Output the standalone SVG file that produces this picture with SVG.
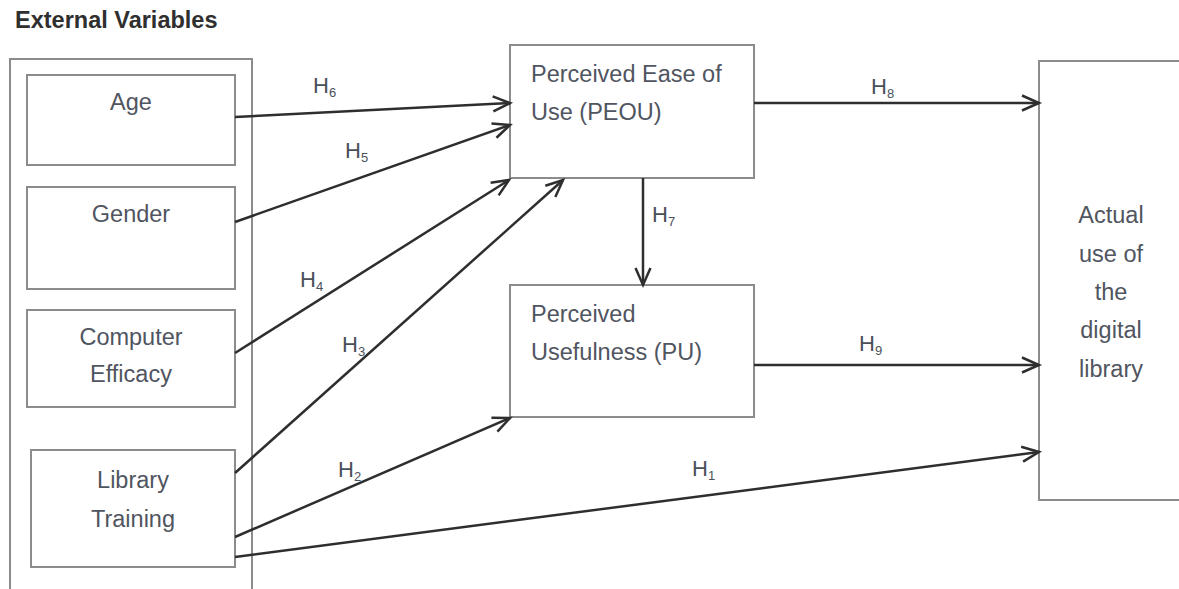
<svg xmlns="http://www.w3.org/2000/svg" width="1179" height="589" viewBox="0 0 1179 589">
<style>
.box{fill:#fff;stroke:#8c8c8c;stroke-width:2}
.txt{font-family:"Liberation Sans",Arial,sans-serif;font-size:23.5px;fill:#50555f}
.title{font-family:"Liberation Sans",Arial,sans-serif;font-size:23.5px;font-weight:bold;fill:#2f2f2f}
.lbl{font-family:"Liberation Sans",Arial,sans-serif;font-size:22px;fill:#4a505a}
.sub{font-size:13px}
.edge{stroke:#2e2e2e;stroke-width:2.5;fill:none;marker-end:url(#arr)}
</style>
<defs>
<marker id="arr" markerUnits="userSpaceOnUse" markerWidth="24" markerHeight="24" refX="20" refY="12" orient="auto" overflow="visible">
<path d="M3,4.5 L20,12 L3,19.5" fill="none" stroke="#2e2e2e" stroke-width="2.5"/>
</marker>
</defs>
<rect width="1179" height="589" fill="#fff"/>
<text class="title" x="15" y="28">External Variables</text>
<g id="external">
<rect class="box" x="10" y="59" width="242" height="560"/>
</g>
<g id="age">
<rect class="box" x="27" y="75" width="208" height="90"/>
<text class="txt" x="131" y="110" text-anchor="middle">Age</text>
</g>
<g id="gender">
<rect class="box" x="27" y="187" width="208" height="102"/>
<text class="txt" x="131" y="222" text-anchor="middle">Gender</text>
</g>
<g id="computer">
<rect class="box" x="27" y="310" width="208" height="97"/>
<text class="txt" x="131" y="345" text-anchor="middle">Computer</text>
<text class="txt" x="131" y="382" text-anchor="middle">Efficacy</text>
</g>
<g id="library">
<rect class="box" x="31" y="450" width="204" height="117"/>
<text class="txt" x="133" y="488" text-anchor="middle">Library</text>
<text class="txt" x="133" y="527" text-anchor="middle">Training</text>
</g>
<g id="peou">
<rect class="box" x="510" y="45" width="244" height="133"/>
<text class="txt" x="531" y="82">Perceived Ease of</text>
<text class="txt" x="531" y="120">Use (PEOU)</text>
</g>
<g id="pu">
<rect class="box" x="510" y="285" width="244" height="132"/>
<text class="txt" x="531" y="322">Perceived</text>
<text class="txt" x="531" y="360">Usefulness (PU)</text>
</g>
<g id="actual">
<rect class="box" x="1039" y="61" width="160" height="439"/>
<text class="txt" x="1111" y="223" text-anchor="middle">Actual</text>
<text class="txt" x="1111" y="262" text-anchor="middle">use of</text>
<text class="txt" x="1111" y="300" text-anchor="middle">the</text>
<text class="txt" x="1111" y="338" text-anchor="middle">digital</text>
<text class="txt" x="1111" y="377" text-anchor="middle">library</text>
</g>
<g id="connectors">
<line class="edge" x1="235" y1="117" x2="510" y2="103"/>
<line class="edge" x1="235" y1="222" x2="510" y2="125"/>
<line class="edge" x1="235" y1="353" x2="509" y2="180"/>
<line class="edge" x1="235" y1="473" x2="563" y2="180"/>
<line class="edge" x1="235" y1="537" x2="510" y2="418"/>
<line class="edge" x1="235" y1="557" x2="1039" y2="452"/>
<line class="edge" x1="643" y1="178" x2="643" y2="285"/>
<line class="edge" x1="754" y1="103" x2="1039" y2="103"/>
<line class="edge" x1="754" y1="365" x2="1039" y2="365"/>
<text class="lbl" x="313" y="93">H<tspan class="sub" dy="4">6</tspan></text>
<text class="lbl" x="345" y="158">H<tspan class="sub" dy="4">5</tspan></text>
<text class="lbl" x="300" y="287">H<tspan class="sub" dy="4">4</tspan></text>
<text class="lbl" x="342" y="352">H<tspan class="sub" dy="4">3</tspan></text>
<text class="lbl" x="338" y="477">H<tspan class="sub" dy="4">2</tspan></text>
<text class="lbl" x="692" y="476">H<tspan class="sub" dy="4">1</tspan></text>
<text class="lbl" x="652" y="222">H<tspan class="sub" dy="4">7</tspan></text>
<text class="lbl" x="871" y="94">H<tspan class="sub" dy="4">8</tspan></text>
<text class="lbl" x="859" y="351">H<tspan class="sub" dy="4">9</tspan></text>
</g>
</svg>
